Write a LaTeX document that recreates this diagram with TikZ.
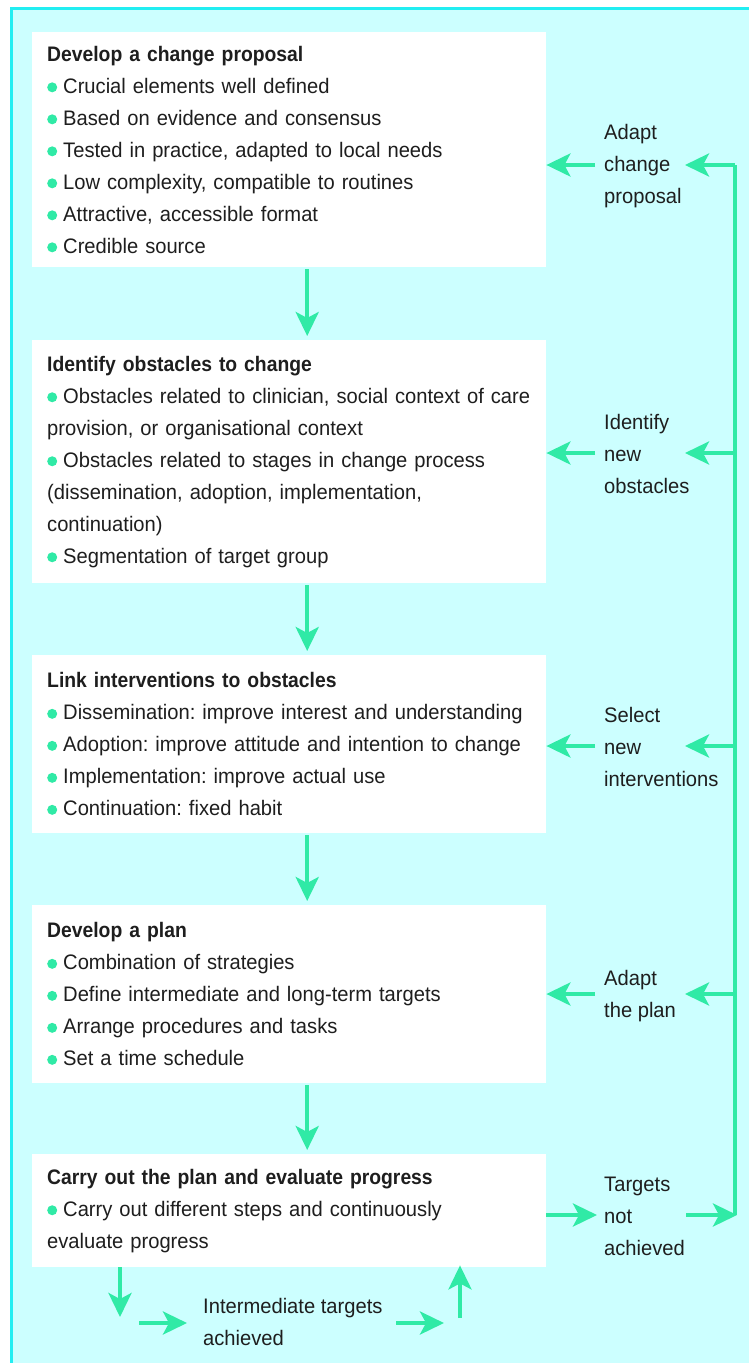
\documentclass[tikz,border=0pt]{standalone}
\usepackage{fontspec}
\setmainfont{Liberation Sans}[FakeStretch=0.96,BoldFeatures={FakeStretch=0.92}]
\usetikzlibrary{arrows.meta}
\frenchspacing
\definecolor{bgc}{HTML}{CCFFFF}
\definecolor{frame}{HTML}{22EEF2}
\definecolor{grn}{HTML}{30EAA6}
\definecolor{txt}{HTML}{1E1E1E}
\newcommand{\bul}{\tikz[baseline={(0,-0.28em)}]\fill[grn] (0,0) circle (5pt);\hspace{6pt}}
\tikzset{
  box/.style={fill=white, anchor=north west, minimum width=514pt, text width=484pt,
    inner xsep=15pt, inner ysep=0pt, align=left, text=txt,
    font=\fontsize{21}{32}\selectfont},
  side/.style={anchor=west, inner sep=0pt, align=left, text=txt,
    font=\fontsize{21}{32}\selectfont},
  arr/.style={draw=grn, line width=4pt, -{Stealth[length=24pt,width=23pt,inset=6pt]}},
  ln/.style={draw=grn, line width=4pt}
}
\begin{document}
\begin{tikzpicture}[x=1pt,y=-1pt]
\useasboundingbox (0,0) rectangle (749,1363);
\fill[white] (0,0) rectangle (749,1363);
\fill[bgc] (10,8) rectangle (749,1363);
\draw[frame, line width=3pt] (11.5,1363) -- (11.5,8.5) -- (749,8.5);

\node[box, minimum height=235pt] (b1) at (32,32) {\textbf{Develop a change proposal}\\
\bul Crucial elements well defined\\
\bul Based on evidence and consensus\\
\bul Tested in practice, adapted to local needs\\
\bul Low complexity, compatible to routines\\
\bul Attractive, accessible format\\
\bul Credible source};

\node[box, minimum height=243pt] (b2) at (32,340) {\textbf{Identify obstacles to change}\\
\bul Obstacles related to clinician, social context of care\\
provision, or organisational context\\
\bul Obstacles related to stages in change process\\
(dissemination, adoption, implementation,\\
continuation)\\
\bul Segmentation of target group};

\node[box, minimum height=178pt] (b3) at (32,655) {\textbf{Link interventions to obstacles}\\
\bul Dissemination: improve interest and understanding\\
\bul Adoption: improve attitude and intention to change\\
\bul Implementation: improve actual use\\
\bul Continuation: fixed habit};

\node[box, minimum height=178pt] (b4) at (32,905) {\textbf{Develop a plan}\\
\bul Combination of strategies\\
\bul Define intermediate and long-term targets\\
\bul Arrange procedures and tasks\\
\bul Set a time schedule};

\node[box, minimum height=113pt] (b5) at (32,1154) {\textbf{Carry out the plan and evaluate progress}\\
\bul Carry out different steps and continuously\\
evaluate progress};

% side labels
\node[side] (l1) at (604,166) {Adapt\\change\\proposal};
\node[side] (l2) at (604,454) {Identify\\new\\obstacles};
\node[side] (l3) at (604,747) {Select\\new\\interventions};
\node[side] (l4) at (604,996) {Adapt\\the plan};
\node[side] (l5) at (604,1216) {Targets\\not\\achieved};
\node[side] (l6) at (203,1322) {Intermediate targets\\achieved};

% coordinates
\coordinate (a1) at (595,165);
\coordinate (a2) at (595,453);
\coordinate (a3) at (595,746);
\coordinate (a4) at (595,994);
\coordinate (a5) at (597,1215);
\coordinate (r1) at (735,165);
\coordinate (r2) at (735,453);
\coordinate (r3) at (735,746);
\coordinate (r4) at (735,994);
\coordinate (r5) at (735,1215);
\coordinate (t1) at (685,165);
\coordinate (t2) at (685,453);
\coordinate (t3) at (685,746);
\coordinate (t4) at (685,994);
\coordinate (s5) at (686,1215);

% down arrows
\foreach \u/\v in {b1/b2,b2/b3,b3/b4,b4/b5}
  \draw[arr, shorten <=2pt, shorten >=4pt] ([xshift=18pt]\u.south) -- ([xshift=18pt]\v.north);

% left arrows into boxes
\draw[arr] (a1) -- (a1 -| b1.east);
\draw[arr] (a2) -- (a2 -| b2.east);
\draw[arr] (a3) -- (a3 -| b3.east);
\draw[arr] (a4) -- (a4 -| b4.east);

% feedback loop
\draw[ln] (r5) -- (r1);
\draw[arr] (r1) -- (t1);
\draw[arr] (r2) -- (t2);
\draw[arr] (r3) -- (t3);
\draw[arr] (r4) -- (t4);
\draw[arr] (a5 -| b5.east) -- (a5);
\draw[arr, shorten >=-2pt] (s5) -- (r5);

% bottom loop
\coordinate (d1) at (120,1317);
\coordinate (e1) at (139,1323);
\coordinate (e2) at (187,1323);
\coordinate (f1) at (396,1323);
\coordinate (f2) at (444,1323);
\coordinate (g1) at (460,1318);
\draw[arr] (b5.south -| d1) -- (d1);
\draw[arr] (e1) -- (e2);
\draw[arr] (f1) -- (f2);
\draw[arr, shorten >=-2pt] (g1) -- (g1 |- b5.south);
\end{tikzpicture}
\end{document}
